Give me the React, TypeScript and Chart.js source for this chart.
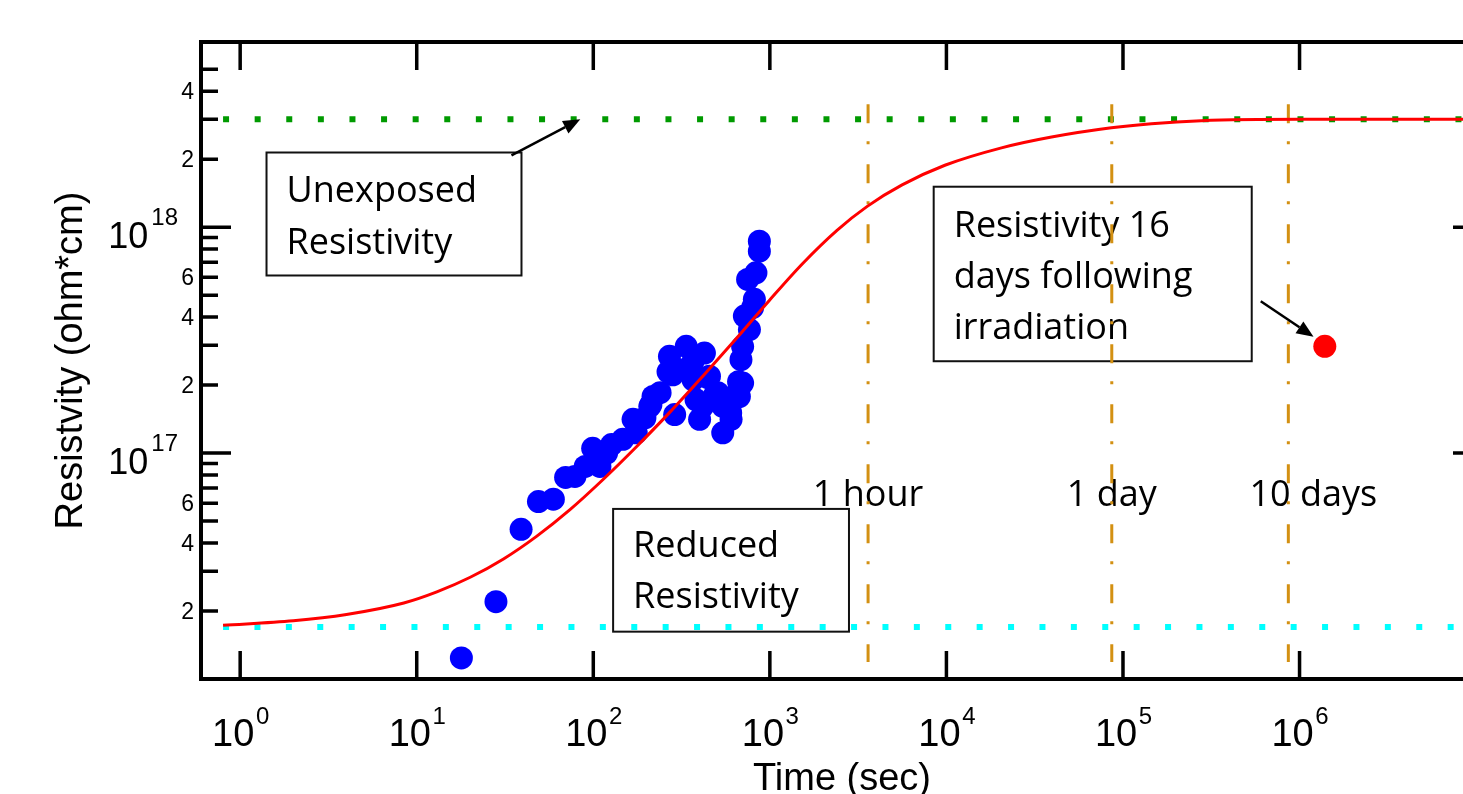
import React, { useEffect, useRef } from 'react';
import { Chart, registerables } from 'chart.js';

Chart.register(...registerables);

// ---------------- data ----------------
// measured resistivity after irradiation (blue points)
const blueTime = [17.9, 28.1, 39.0, 48.9, 59.4, 69.7, 78.7, 90.0, 99.2, 109, 119, 127, 147, 168, 175, 196, 209, 212, 218, 239, 265, 270, 282, 289, 294, 308, 336, 367, 367, 382, 400, 417, 426, 445, 455, 487, 507, 541, 541, 600, 603, 640, 665, 672, 686, 701, 701, 717, 748, 766, 798, 817, 834, 872, 872];
const blueRes = [1.24e16, 2.2e16, 4.6e16, 6.1e16, 6.25e16, 7.8e16, 7.88e16, 8.73e16, 1.05e17, 8.73e16, 1.0e17, 1.09e17, 1.15e17, 1.41e17, 1.23e17, 1.43e17, 1.61e17, 1.64e17, 1.78e17, 1.85e17, 2.29e17, 2.68e17, 2.22e17, 1.48e17, 2.34e17, 2.34e17, 2.97e17, 2.11e17, 2.54e17, 1.72e17, 1.41e17, 1.61e17, 2.77e17, 2.16e17, 2.19e17, 1.81e17, 1.85e17, 1.23e17, 1.61e17, 1.51e17, 1.41e17, 1.81e17, 2.07e17, 1.78e17, 2.59e17, 2.04e17, 2.96e17, 4.04e17, 5.87e17, 3.52e17, 4.4e17, 4.79e17, 6.28e17, 7.83e17, 8.67e17];

// recovery fit (red curve)
const fitTime = [0.8, 2, 4, 8.45, 13, 20.1, 31, 47.7, 73.8, 114, 175, 270, 417, 640, 993, 1530, 2400, 3560, 5610, 9800, 20500, 39400, 86000, 145000, 277000, 1.0e6, 1.1e7];
const fitRes = [1.73e16, 1.81e16, 1.93e16, 2.17e16, 2.43e16, 2.82e16, 3.4e16, 4.28e16, 5.62e16, 7.66e16, 1.064e17, 1.51e17, 2.19e17, 3.19e17, 4.74e17, 6.89e17, 9.68e17, 1.236e18, 1.538e18, 1.879e18, 2.244e18, 2.506e18, 2.754e18, 2.871e18, 2.958e18, 3.0e18, 3.0e18];

// 16 days following irradiation (red point)
const lateTime = [1.39e6];
const lateRes = [2.97e17];

// reference levels
const unexposedLevel = 3.0e18;
const reducedLevel = 1.7e16;
const levelStart = 0.8;

// time markers
const markerTimes = [3600, 86400, 864000];
const markerLabels = ['1 hour', '1 day', '10 days'];
const markerTop = 3.5e18;
const markerBottom = 1.19e16;

// axes
const xMin = 0.637;
const xMax = 1.094e7;
const yMin = 1e16;
const yMax = 6.6e18;
const xTickValues = [1, 10, 100, 1e3, 1e4, 1e5, 1e6];
const xTickExps = ['0', '1', '2', '3', '4', '5', '6'];
const yMajorValues = [1e17, 1e18];
const yMajorExps = ['17', '18'];
const yMinorValues = [2e16, 3e16, 4e16, 5e16, 6e16, 7e16, 8e16, 9e16, 2e17, 3e17, 4e17, 5e17, 6e17, 7e17, 8e17, 9e17, 2e18, 3e18, 4e18, 5e18];
const yMinorLabelValues = [2e16, 4e16, 6e16, 2e17, 4e17, 6e17, 2e18, 4e18];
const yMinorLabels = ['2', '4', '6', '2', '4', '6', '2', '4'];

const xTitle = 'Time (sec)';
const yTitle = 'Resistvity (ohm*cm)';

// annotation boxes (data-anchored)
const noteBoxes = [
  { t0: 1.41, t1: 39.2, top: 2.14e18, bottom: 6.11e17, lines: ['Unexposed', 'Resistivity'], base: [49, 101] },
  { t0: 129.5, t1: 2806, top: 5.66e16, bottom: 1.62e16, lines: ['Reduced', 'Resistivity'], base: [48, 99] },
  { t0: 8470, t1: 5.36e5, top: 1.51e18, bottom: 2.55e17, lines: ['Resistivity 16', 'days following', 'irradiation'], base: [50, 101, 152] },
];
const arrows = [
  { t0: 34.4, v0: 2.08e18, t1: 84.4, v1: 3.0e18 },
  { t0: 6.03e5, v0: 4.7e17, t1: 1.2e6, v1: 3.27e17 },
];

// ---------------- drawing ----------------
const CW = 1520;
const CH = 794;
const AX_FONT = '"Liberation Sans", Arial, Helvetica, sans-serif';
const NOTE_FONT = '"Open Sans", "Liberation Sans", sans-serif';
const ORANGE = '#D39012';

function drawArrow(ctx: CanvasRenderingContext2D, x0: number, y0: number, x1: number, y1: number) {
  const a = Math.atan2(y1 - y0, x1 - x0);
  const L = 17;
  const Wd = 7;
  const bx = x1 - L * Math.cos(a);
  const by = y1 - L * Math.sin(a);
  ctx.beginPath();
  ctx.moveTo(x0, y0);
  ctx.lineTo(bx, by);
  ctx.stroke();
  ctx.beginPath();
  ctx.moveTo(x1, y1);
  ctx.lineTo(bx + Wd * Math.sin(a), by - Wd * Math.cos(a));
  ctx.lineTo(bx - Wd * Math.sin(a), by + Wd * Math.cos(a));
  ctx.closePath();
  ctx.fill();
}

const decor = {
  id: 'decor',
  beforeDatasetsDraw(chart: any) {
    const { ctx } = chart;
    const x = chart.scales.x;
    const y = chart.scales.y;
    ctx.save();
    ctx.strokeStyle = '#111';
    ctx.lineWidth = 2;
    ctx.fillStyle = '#000';
    ctx.font = `36px ${NOTE_FONT}`;
    ctx.textAlign = 'left';
    ctx.textBaseline = 'alphabetic';
    for (const b of noteBoxes) {
      const x0 = x.getPixelForValue(b.t0);
      const x1 = x.getPixelForValue(b.t1);
      const y0 = y.getPixelForValue(b.top);
      const y1 = y.getPixelForValue(b.bottom);
      ctx.strokeRect(x0, y0, x1 - x0, y1 - y0);
      b.lines.forEach((s, i) => ctx.fillText(s, x0 + 20, y0 + b.base[i]));
    }
    // marker labels
    const labelY = y.getPixelForValue(5.85e16);
    const offsets = [0, 0, 25];
    markerTimes.forEach((t, i) => {
      ctx.textAlign = 'center';
      ctx.fillText(markerLabels[i], x.getPixelForValue(t) + offsets[i], labelY);
    });
    ctx.restore();
  },
  afterDatasetsDraw(chart: any) {
    const { ctx, chartArea } = chart;
    const x = chart.scales.x;
    const y = chart.scales.y;
    const { left, right, top, bottom } = chartArea;
    ctx.save();
    // arrows
    ctx.strokeStyle = '#000';
    ctx.fillStyle = '#000';
    ctx.lineWidth = 2.5;
    for (const a of arrows) {
      drawArrow(ctx, x.getPixelForValue(a.t0), y.getPixelForValue(a.v0), x.getPixelForValue(a.t1), y.getPixelForValue(a.v1));
    }
    // frame
    ctx.lineWidth = 4;
    ctx.strokeRect(left, top, right - left, bottom - top);
    // ticks
    ctx.lineWidth = 3.5;
    ctx.beginPath();
    for (const v of xTickValues) {
      const px = x.getPixelForValue(v);
      ctx.moveTo(px, bottom);
      ctx.lineTo(px, bottom - 28);
      ctx.moveTo(px, top);
      ctx.lineTo(px, top + 28);
    }
    for (const v of yMajorValues) {
      const py = y.getPixelForValue(v);
      ctx.moveTo(left, py);
      ctx.lineTo(left + 30, py);
      ctx.moveTo(right, py);
      ctx.lineTo(right - 30, py);
    }
    for (const v of yMinorValues) {
      const py = y.getPixelForValue(v);
      ctx.moveTo(left, py);
      ctx.lineTo(left + 17, py);
      ctx.moveTo(right, py);
      ctx.lineTo(right - 17, py);
    }
    ctx.stroke();

    // x tick labels
    ctx.textBaseline = 'alphabetic';
    ctx.textAlign = 'left';
    xTickValues.forEach((v, i) => {
      const px = x.getPixelForValue(v);
      ctx.font = `38px ${AX_FONT}`;
      const bw = ctx.measureText('10').width;
      ctx.font = `24px ${AX_FONT}`;
      const ew = ctx.measureText(xTickExps[i]).width;
      const start = px - (bw + 1.5 + ew) / 2 + 0.5;
      ctx.font = `38px ${AX_FONT}`;
      ctx.fillText('10', start, bottom + 67);
      ctx.font = `24px ${AX_FONT}`;
      ctx.fillText(xTickExps[i], start + bw + 1.5, bottom + 44.5);
    });
    // y major labels
    yMajorValues.forEach((v, i) => {
      const py = y.getPixelForValue(v);
      ctx.font = `24px ${AX_FONT}`;
      ctx.textAlign = 'right';
      const expRight = left - 23;
      const ew = ctx.measureText(yMajorExps[i]).width;
      ctx.fillText(yMajorExps[i], expRight, py - 2.5);
      ctx.font = `36px ${AX_FONT}`;
      ctx.fillText('10', expRight - ew - 3, py + 20.6);
    });
    // y minor labels
    ctx.font = `23px ${AX_FONT}`;
    ctx.textAlign = 'right';
    yMinorLabelValues.forEach((v, i) => {
      const py = y.getPixelForValue(v);
      ctx.fillText(yMinorLabels[i], left - 7, py + 8.2);
    });
    // titles
    ctx.font = `38px ${AX_FONT}`;
    ctx.textAlign = 'center';
    ctx.fillText(xTitle, (left + right) / 2, 790);
    ctx.translate(82, (top + bottom) / 2);
    ctx.rotate(-Math.PI / 2);
    ctx.fillText(yTitle, 0, 0);
    ctx.restore();
  },
};

export default function App() {
  const ref = useRef<HTMLCanvasElement>(null);
  useEffect(() => {
    const canvas = ref.current;
    if (!canvas) return;
    const datasets: any[] = [
      {
        type: 'scatter',
        data: blueTime.map((t, i) => ({ x: t, y: blueRes[i] })),
        pointRadius: 11.5,
        pointBackgroundColor: '#0000FF',
        pointBorderWidth: 0,
        backgroundColor: '#0000FF',
        order: 6,
      },
      {
        type: 'line',
        data: [{ x: levelStart, y: unexposedLevel }, { x: xMax, y: unexposedLevel }],
        borderColor: '#009A00',
        borderWidth: 6,
        borderDash: [6, 25.6],
        pointRadius: 0,
        order: 5,
      },
      {
        type: 'line',
        data: [{ x: levelStart, y: reducedLevel }, { x: xMax, y: reducedLevel }],
        borderColor: '#00FFFF',
        borderWidth: 6,
        borderDash: [6, 25.4],
        pointRadius: 0,
        order: 5,
      },
      ...markerTimes.map((t) => ({
        type: 'line',
        data: [{ x: t, y: markerTop }, { x: t, y: markerBottom }],
        borderColor: ORANGE,
        borderWidth: 3,
        borderDash: [19, 18, 3, 20],
        pointRadius: 0,
        order: 4,
      })),
      {
        type: 'line',
        data: fitTime.map((t, i) => ({ x: t, y: fitRes[i] })),
        borderColor: '#FF0000',
        borderWidth: 3,
        cubicInterpolationMode: 'monotone',
        pointRadius: 0,
        order: 2,
      },
      {
        type: 'scatter',
        data: lateTime.map((t, i) => ({ x: t, y: lateRes[i] })),
        pointRadius: 11.5,
        pointBackgroundColor: '#FF0000',
        pointBorderWidth: 0,
        backgroundColor: '#FF0000',
        order: 1,
      },
    ];
    const chart = new Chart(canvas, {
      type: 'scatter',
      data: { datasets },
      options: {
        animation: false,
        responsive: false,
        devicePixelRatio: 1,
        layout: { padding: { left: 201, right: CW - 1483, top: 42, bottom: CH - 679 } },
        scales: {
          x: { type: 'logarithmic', min: xMin, max: xMax, display: false },
          y: { type: 'logarithmic', min: yMin, max: yMax, display: false },
        },
        plugins: { legend: { display: false }, tooltip: { enabled: false } },
        events: [],
      },
      plugins: [decor],
    } as any);
    return () => chart.destroy();
  }, []);
  return (
    <div style={{ position: 'fixed', left: 0, top: 0, width: 1463, height: 794, overflow: 'hidden', background: '#fff' }}>
      <canvas ref={ref} width={CW} height={CH} style={{ display: 'block', width: CW, height: CH }} />
    </div>
  );
}
